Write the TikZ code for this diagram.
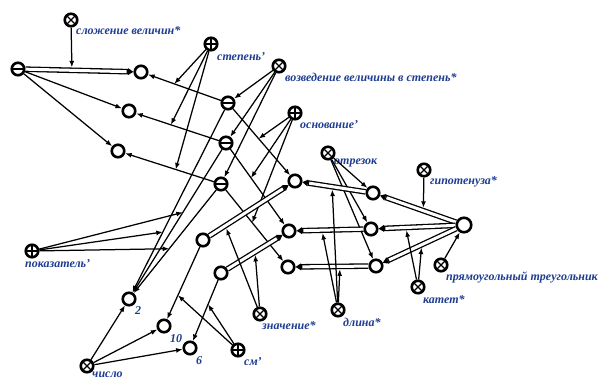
\documentclass[tikz,border=0pt]{standalone}
\usepackage{fontspec}
\setmainfont{Liberation Serif}
\usetikzlibrary{arrows.meta}
\definecolor{lblue}{RGB}{30,60,145}

\begin{document}
\begin{tikzpicture}[x=1pt,y=-1pt,
  vtx/.style={circle, draw, line width=2.6pt, minimum size=12.5pt, inner sep=0pt,
    fill=white, outer sep=1.3pt},
  bigvtx/.style={vtx, minimum size=14.5pt},
  xnode/.style={vtx, path picture={
    \draw[line width=1.1pt]
      ([shift={(-4pt,-4pt)}]path picture bounding box.center) -- ([shift={(4pt,4pt)}]path picture bounding box.center)
      ([shift={(-4pt,4pt)}]path picture bounding box.center) -- ([shift={(4pt,-4pt)}]path picture bounding box.center);}},
  pnode/.style={vtx, path picture={
    \draw[line width=1.8pt]
      ([xshift=-7pt]path picture bounding box.center) -- ([xshift=7pt]path picture bounding box.center)
      ([yshift=-7pt]path picture bounding box.center) -- ([yshift=7pt]path picture bounding box.center);}},
  mnode/.style={vtx, path picture={
    \draw[line width=2.2pt]
      ([xshift=-7pt]path picture bounding box.center) -- ([xshift=7pt]path picture bounding box.center);}},
  lbl/.style={text=lblue, font=\bfseries\itshape\fontsize{12}{14}\selectfont, anchor=west, inner sep=0pt},
  arr/.style={line width=1.25pt, -{Latex[length=6.5pt,width=5pt]}},
  attr/.style={arr, shorten >=2.9pt},
  hollow/.style={line width=5.6pt, -{Triangle[length=5.5pt,width=7pt,line width=0pt]},
    postaction={draw=white, line width=3pt, -, shorten >=6.8pt}}
]
\fill[white] (0,0) rectangle (606,379);
\useasboundingbox (0,0) rectangle (606,379);

% vertices
\node[xnode] (A) at (71,20) {};
\node[mnode] (B) at (18,69) {};
\node[vtx] (C) at (141,72) {};
\node[vtx] (D) at (129,111) {};
\node[vtx] (E) at (118,151) {};
\node[pnode] (F) at (211,44) {};
\node[xnode] (G) at (279,66) {};
\node[mnode] (H) at (228,103) {};
\node[mnode] (I) at (226,143) {};
\node[mnode] (J) at (221,184) {};
\node[pnode] (K) at (295,113) {};
\node[vtx] (L) at (295,181) {};
\node[xnode] (M) at (328,153) {};
\node[vtx] (N) at (373,193) {};
\node[xnode] (O) at (424,170) {};
\node[vtx] (P) at (289,231) {};
\node[vtx] (Q) at (371,229) {};
\node[bigvtx] (R) at (464,225) {};
\node[vtx] (S) at (288,267) {};
\node[vtx] (T) at (376,266) {};
\node[xnode] (U) at (441,265) {};
\node[xnode] (V) at (418,287) {};
\node[xnode] (W) at (338,310) {};
\node[xnode] (X) at (260,314) {};
\node[vtx] (Y) at (203,240) {};
\node[vtx] (Z) at (221,273) {};
\node[pnode] (AA) at (32,251) {};
\node[vtx] (BB) at (129,299) {};
\node[vtx] (CC) at (164,326) {};
\node[vtx] (DD) at (190,348) {};
\node[pnode] (EE) at (238,350) {};
\node[xnode] (FF) at (87,366) {};

% labels
\node[lbl] (lA) at (76,31) {сложение величин*};
\node[lbl] (lF) at (217,57) {степень'};
\node[lbl] (lG) at (285,77) {возведение величины в степень*};
\node[lbl] (lK) at (300,125) {основание'};
\node[lbl] (lM) at (334,163) {отрезок};
\node[lbl] (lO) at (430,182) {гипотенуза*};
\node[lbl] (lU) at (446,277) {прямоугольный треугольник};
\node[lbl] (lV) at (423,300) {катет*};
\node[lbl] (lW) at (343,322) {длина*};
\node[lbl] (lX) at (262,326) {значение*};
\node[lbl] (lEE) at (244,362) {см'};
\node[lbl] (lDD) at (196,361) {6};
\node[lbl] (lCC) at (170,339) {10};
\node[lbl] (lBB) at (135,311) {2};
\node[lbl] (lAA) at (25,264) {показатель'};
\node[lbl] (lFF) at (92,375) {число};

% plain relations
\draw[arr] (B) -- (D);
\draw[arr] (B) -- (E);
\draw[arr] (H) -- coordinate[pos=.64] (hc) (C);
\draw[arr] (I) -- coordinate[pos=.58] (id) (D);
\draw[arr] (J) -- coordinate[pos=.43] (je) (E);
\draw[arr] (G) -- (H);
\draw[arr] (G) -- (I);
\draw[arr] (G) -- (J);
\draw[arr] (H) -- coordinate[pos=.67] (hb) (BB);
\draw[arr] (I) -- coordinate[pos=.44] (ib) (BB);
\draw[arr] (J) -- coordinate[pos=.57] (jb) (BB);
\draw[arr] (H) -- coordinate[pos=.45] (hl) (L);
\draw[arr] (I) -- coordinate[pos=.38] (ip) (P);
\draw[arr] (J) -- coordinate[pos=.46] (js) (S);
\draw[arr] (Y) -- coordinate[pos=.67] (yc) (CC);
\draw[arr] (Z) -- coordinate[pos=.40] (zd) (DD);
\draw[arr] (FF) -- (BB);
\draw[arr] (FF) -- (CC);
\draw[arr] (FF) -- (DD);
\draw[arr] (M) -- (N);
\draw[arr] (M) -- (Q);
\draw[arr] (M) -- (T);
\draw[arr] (U) -- (R);

% role arrows onto plain relations
\draw[arr] (F) -- (hc);
\draw[arr] (F) -- (id);
\draw[arr] (F) -- (je);
\draw[arr] (AA) -- (hb);
\draw[arr] (AA) -- (ib);
\draw[arr] (AA) -- (jb);
\draw[arr] (K) -- (hl);
\draw[arr] (K) -- (ip);
\draw[arr] (K) -- (js);
\draw[arr] (EE) -- (yc);
\draw[arr] (EE) -- (zd);

% hollow relations
\draw[hollow] (B) -- coordinate[pos=.43] (bc) (C);
\draw[hollow] (Y) -- coordinate[pos=.20] (yl) (L);
\draw[hollow] (Z) -- coordinate[pos=.50] (zp) (P);
\draw[hollow] (N) -- coordinate[pos=.53] (nl) (L);
\draw[hollow] (Q) -- coordinate[pos=.62] (qp) (P);
\draw[hollow] (T) -- coordinate[pos=.39] (ts) (S);
\draw[hollow] (R) -- coordinate[pos=.43] (rn) (N);
\draw[hollow] (R) -- coordinate[pos=.645] (rq) (Q);
\draw[hollow] (R) -- coordinate[pos=.47] (rt) (T);

% role arrows onto hollow relations
\draw[attr] (A) -- (bc);
\draw[attr] (X) -- (yl);
\draw[attr] (X) -- (zp);
\draw[attr] (W) -- (nl);
\draw[attr] (W) -- (qp);
\draw[attr] (W) -- (ts);
\draw[attr] (O) -- (rn);
\draw[attr] (V) -- (rq);
\draw[attr] (V) -- (rt);
\end{tikzpicture}
\end{document}
